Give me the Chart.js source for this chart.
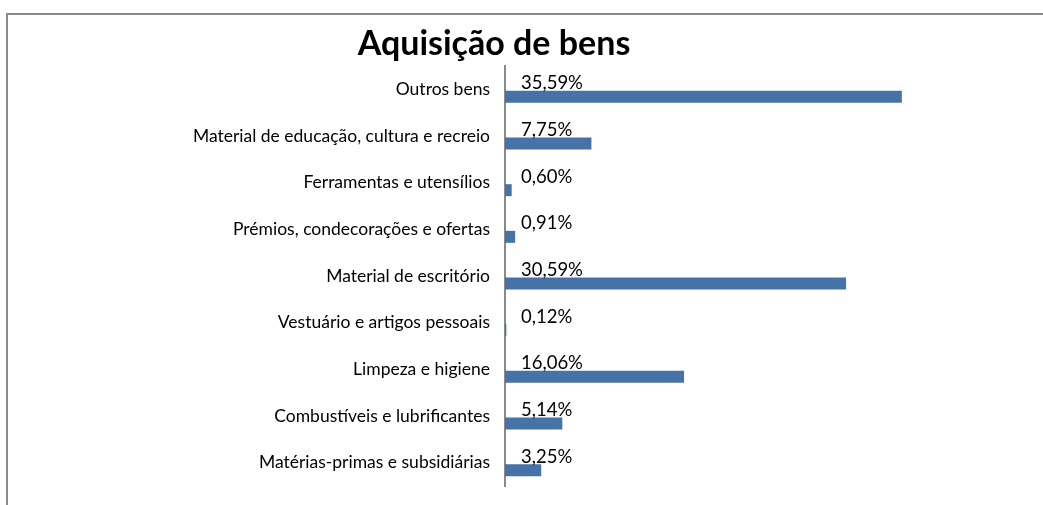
<!DOCTYPE html>
<html><head><meta charset="utf-8">
<script src="https://cdn.jsdelivr.net/npm/chart.js@4/dist/chart.umd.min.js"></script>
<style>html,body{margin:0;padding:0;background:#fff;}#wrap{width:1043px;height:505px;position:relative;}</style>
</head><body><div id="wrap"><canvas id="c" width="1043" height="505"></canvas></div>
<script>
const chartTitle = 'Aquisição de bens';
const categories = ['Outros bens', 'Material de educação, cultura e recreio', 'Ferramentas e utensílios', 'Prémios, condecorações e ofertas', 'Material de escritório', 'Vestuário e artigos pessoais', 'Limpeza e higiene', 'Combustíveis e lubrificantes', 'Matérias-primas e subsidiárias'];
const values = [35.59, 7.75, 0.60, 0.91, 30.59, 0.12, 16.06, 5.14, 3.25];
const axisMax = 40;

const FONT = 'Lato, "Open Sans", sans-serif';

const framePlugin = {
  id: 'frame',
  beforeDraw(chart) {
    const ctx = chart.ctx;
    ctx.save();
    ctx.strokeStyle = '#8a8a8a';
    ctx.lineWidth = 2;
    ctx.beginPath();
    ctx.moveTo(7, 505);
    ctx.lineTo(7, 14);
    ctx.lineTo(1043, 14);
    ctx.stroke();
    ctx.restore();
  },
  afterDraw(chart) {
    const ctx = chart.ctx;
    ctx.save();
    ctx.fillStyle = '#000';
    ctx.font = 'bold 34px ' + FONT;
    ctx.textAlign = 'center';
    ctx.textBaseline = 'alphabetic';
    ctx.fillText(chartTitle, 494, 55);
    const meta = chart.getDatasetMeta(1);
    ctx.font = '18.5px ' + FONT;
    ctx.textAlign = 'left';
    meta.data.forEach((bar, i) => {
      const top = bar.y - bar.height / 2;
      const txt = values[i].toFixed(2).replace('.', ',') + '%';
      ctx.fillText(txt, chart.chartArea.left + 16, top - 1.5);
    });
    ctx.restore();
  }
};

new Chart(document.getElementById('c'), {
  type: 'bar',
  data: {
    labels: categories,
    datasets: [
      { label: 'spacer', data: categories.map(() => null), backgroundColor: 'rgba(0,0,0,0)' },
      { label: 'Aquisição de bens', data: values, backgroundColor: '#4672a8', borderWidth: 0 }
    ]
  },
  options: {
    indexAxis: 'y',
    responsive: false,
    animation: false,
    devicePixelRatio: 1,
    categoryPercentage: 0.643,
    barPercentage: 0.8,
    layout: { padding: { top: 66, bottom: 19, right: 92, left: 0 } },
    plugins: { legend: { display: false }, title: { display: false }, tooltip: { enabled: false } },
    scales: {
      x: { display: false, min: 0, max: axisMax },
      y: {
        afterFit(scale) { scale.width = 505; scale.paddingTop = 0; scale.paddingBottom = 0; },
        grid: { display: false, drawTicks: false },
        border: { display: true, color: '#8a8a8a', width: 2 },
        ticks: { color: '#000', font: { family: FONT, size: 17.5 }, padding: 15 }
      }
    }
  },
  plugins: [framePlugin]
});
</script>
</body></html>
